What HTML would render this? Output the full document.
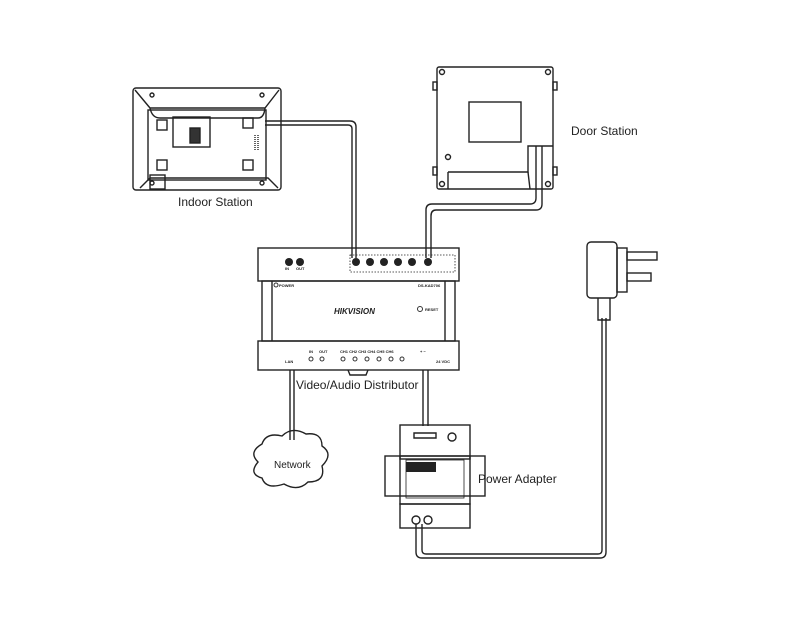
<!DOCTYPE html>
<html><head><style>
html,body{margin:0;padding:0;background:#fff;width:800px;height:640px;overflow:hidden}
svg{display:block}
text{font-family:"Liberation Sans",sans-serif;fill:#222}
</style></head><body>
<svg width="800" height="640" viewBox="0 0 800 640" xmlns="http://www.w3.org/2000/svg">
<g fill="none" stroke="#222" stroke-width="1.4">
<!-- Indoor station -->
<rect x="133" y="88" width="148" height="102" rx="3"/>
<path d="M135 90 L150 108 L265 108 L279 90"/>
<path d="M150 108 Q152 118 160 118 L258 118 Q264 118 265 108"/>
<rect x="148" y="110" width="118" height="70"/>
<path d="M140 188 L150 178 L268 178 L278 188"/>
<rect x="173" y="117" width="37" height="30"/>
<rect x="157" y="120" width="10" height="10"/><rect x="243" y="118" width="10" height="10"/>
<rect x="157" y="160" width="10" height="10"/><rect x="243" y="160" width="10" height="10"/>
<rect x="190" y="128" width="10" height="15" fill="#333"/>
<rect x="150" y="175" width="15" height="14"/>
<circle cx="152" cy="95" r="2"/><circle cx="262" cy="95" r="2"/>
<circle cx="152" cy="183" r="2"/><circle cx="262" cy="183" r="2"/>
<path d="M255 135 v15 M258 135 v15" stroke-dasharray="1 1"/>
<!-- indoor cable -->
<path d="M265 121 L350 121 Q356 121 356 127 L356 258"/>
<path d="M265 125 L348 125 Q352 125 352 129 L352 258"/>
<!-- Door station -->
<rect x="437" y="67" width="116" height="122" rx="2"/>
<rect x="469" y="102" width="52" height="40"/>
<path d="M448 172 L528 172 L528 146 L553 146"/>
<path d="M448 172 L448 189 M528 172 L530 189"/>
<circle cx="448" cy="157" r="2.5"/>
<circle cx="442" cy="72" r="2.5"/><circle cx="548" cy="72" r="2.5"/>
<circle cx="442" cy="184" r="2.5"/><circle cx="548" cy="184" r="2.5"/>
<rect x="433" y="82" width="4" height="8"/><rect x="553" y="82" width="4" height="8"/>
<rect x="433" y="167" width="4" height="8"/><rect x="553" y="167" width="4" height="8"/>
<path d="M536 146 L536 198 Q536 204 530 204 L432 204 Q426 204 426 210 L426 258"/>
<path d="M542 146 L542 204 Q542 210 536 210 L436 210 Q431 210 431 216 L431 258"/>
<!-- Distributor -->
<rect x="258" y="248" width="201" height="33"/>
<rect x="262" y="281" width="193" height="60"/>
<line x1="272" y1="281" x2="272" y2="341"/><line x1="445" y1="281" x2="445" y2="341"/>
<rect x="258" y="341" width="201" height="29"/>
<path d="M348 370 L350 375 L366 375 L368 370"/>
<rect x="350" y="255" width="105" height="17" stroke-dasharray="1.5 1.5" stroke-width="0.8"/>
<!-- power and lan cables -->
<path d="M290 370 L290 440 M294 370 L294 440"/>
<path d="M423 370 L423 426 M428 370 L428 426"/>
<!-- Network cloud -->
<path d="M258 462 Q248 452 262 444 Q266 432 282 436 Q292 426 306 434 Q322 432 322 446 Q334 454 322 466 Q326 482 308 482 Q298 492 284 484 Q266 490 262 478 Q248 474 258 462 Z"/>
<!-- Power adapter -->
<rect x="400" y="425" width="70" height="34"/>
<rect x="385" y="456" width="100" height="40"/>
<rect x="400" y="456" width="70" height="48"/>
<rect x="400" y="504" width="70" height="24"/>
<rect x="406" y="460" width="58" height="38" stroke-width="0.8"/>
<circle cx="452" cy="437" r="4"/><circle cx="416" cy="520" r="4"/><circle cx="428" cy="520" r="4"/>
<path d="M414 433 h22 v5 h-22z"/>
<path d="M416 524 L416 552 Q416 558 422 558 L600 558 Q606 558 606 552 L606 318"/>
<path d="M422 524 L422 550 Q422 554 426 554 L598 554 Q602 554 602 550 L602 318"/>
<!-- Plug -->
<rect x="587" y="242" width="30" height="56" rx="4"/>
<rect x="617" y="248" width="10" height="44"/>
<rect x="627" y="252" width="30" height="8"/><rect x="627" y="273" width="24" height="8"/>
<path d="M598 298 L598 320 L610 320 L610 298"/>
</g>
<g fill="#222">
<circle cx="289" cy="262" r="4"/><circle cx="300" cy="262" r="4"/>
<circle cx="356" cy="262" r="4"/><circle cx="370" cy="262" r="4"/><circle cx="384" cy="262" r="4"/><circle cx="398" cy="262" r="4"/><circle cx="412" cy="262" r="4"/><circle cx="428" cy="262" r="4"/>
<rect x="406" y="462" width="30" height="10"/>
</g>
<g fill="none" stroke="#333">
<circle cx="276" cy="285" r="2"/><circle cx="420" cy="309" r="2.5"/>
<circle cx="311" cy="359" r="2"/><circle cx="322" cy="359" r="2"/>
<circle cx="343" cy="359" r="2"/><circle cx="355" cy="359" r="2"/><circle cx="367" cy="359" r="2"/><circle cx="379" cy="359" r="2"/><circle cx="391" cy="359" r="2"/><circle cx="402" cy="359" r="2"/>
</g>
<g font-size="4" style="font-weight:bold">
<text x="285" y="270">IN</text><text x="296" y="270">OUT</text>
<text x="279" y="287">POWER</text><text x="418" y="287">DS-KAD706</text><text x="425" y="311">RESET</text>
<text x="285" y="363">LAN</text><text x="309" y="353">IN</text><text x="319" y="353">OUT</text>
<text x="340" y="353">CH1 CH2 CH3 CH4 CH5 CH6</text>
<text x="420" y="353">+ −</text><text x="436" y="363">24 VDC</text>
</g>
<text x="334" y="314" font-size="8" font-style="italic" font-weight="bold">HIKVISION</text>
<text x="178" y="206" font-size="12">Indoor Station</text>
<text x="571" y="135" font-size="12">Door Station</text>
<text x="296" y="389" font-size="12">Video/Audio Distributor</text>
<text x="274" y="468" font-size="10">Network</text>
<text x="478" y="483" font-size="12">Power Adapter</text>
</svg>
</body></html>
